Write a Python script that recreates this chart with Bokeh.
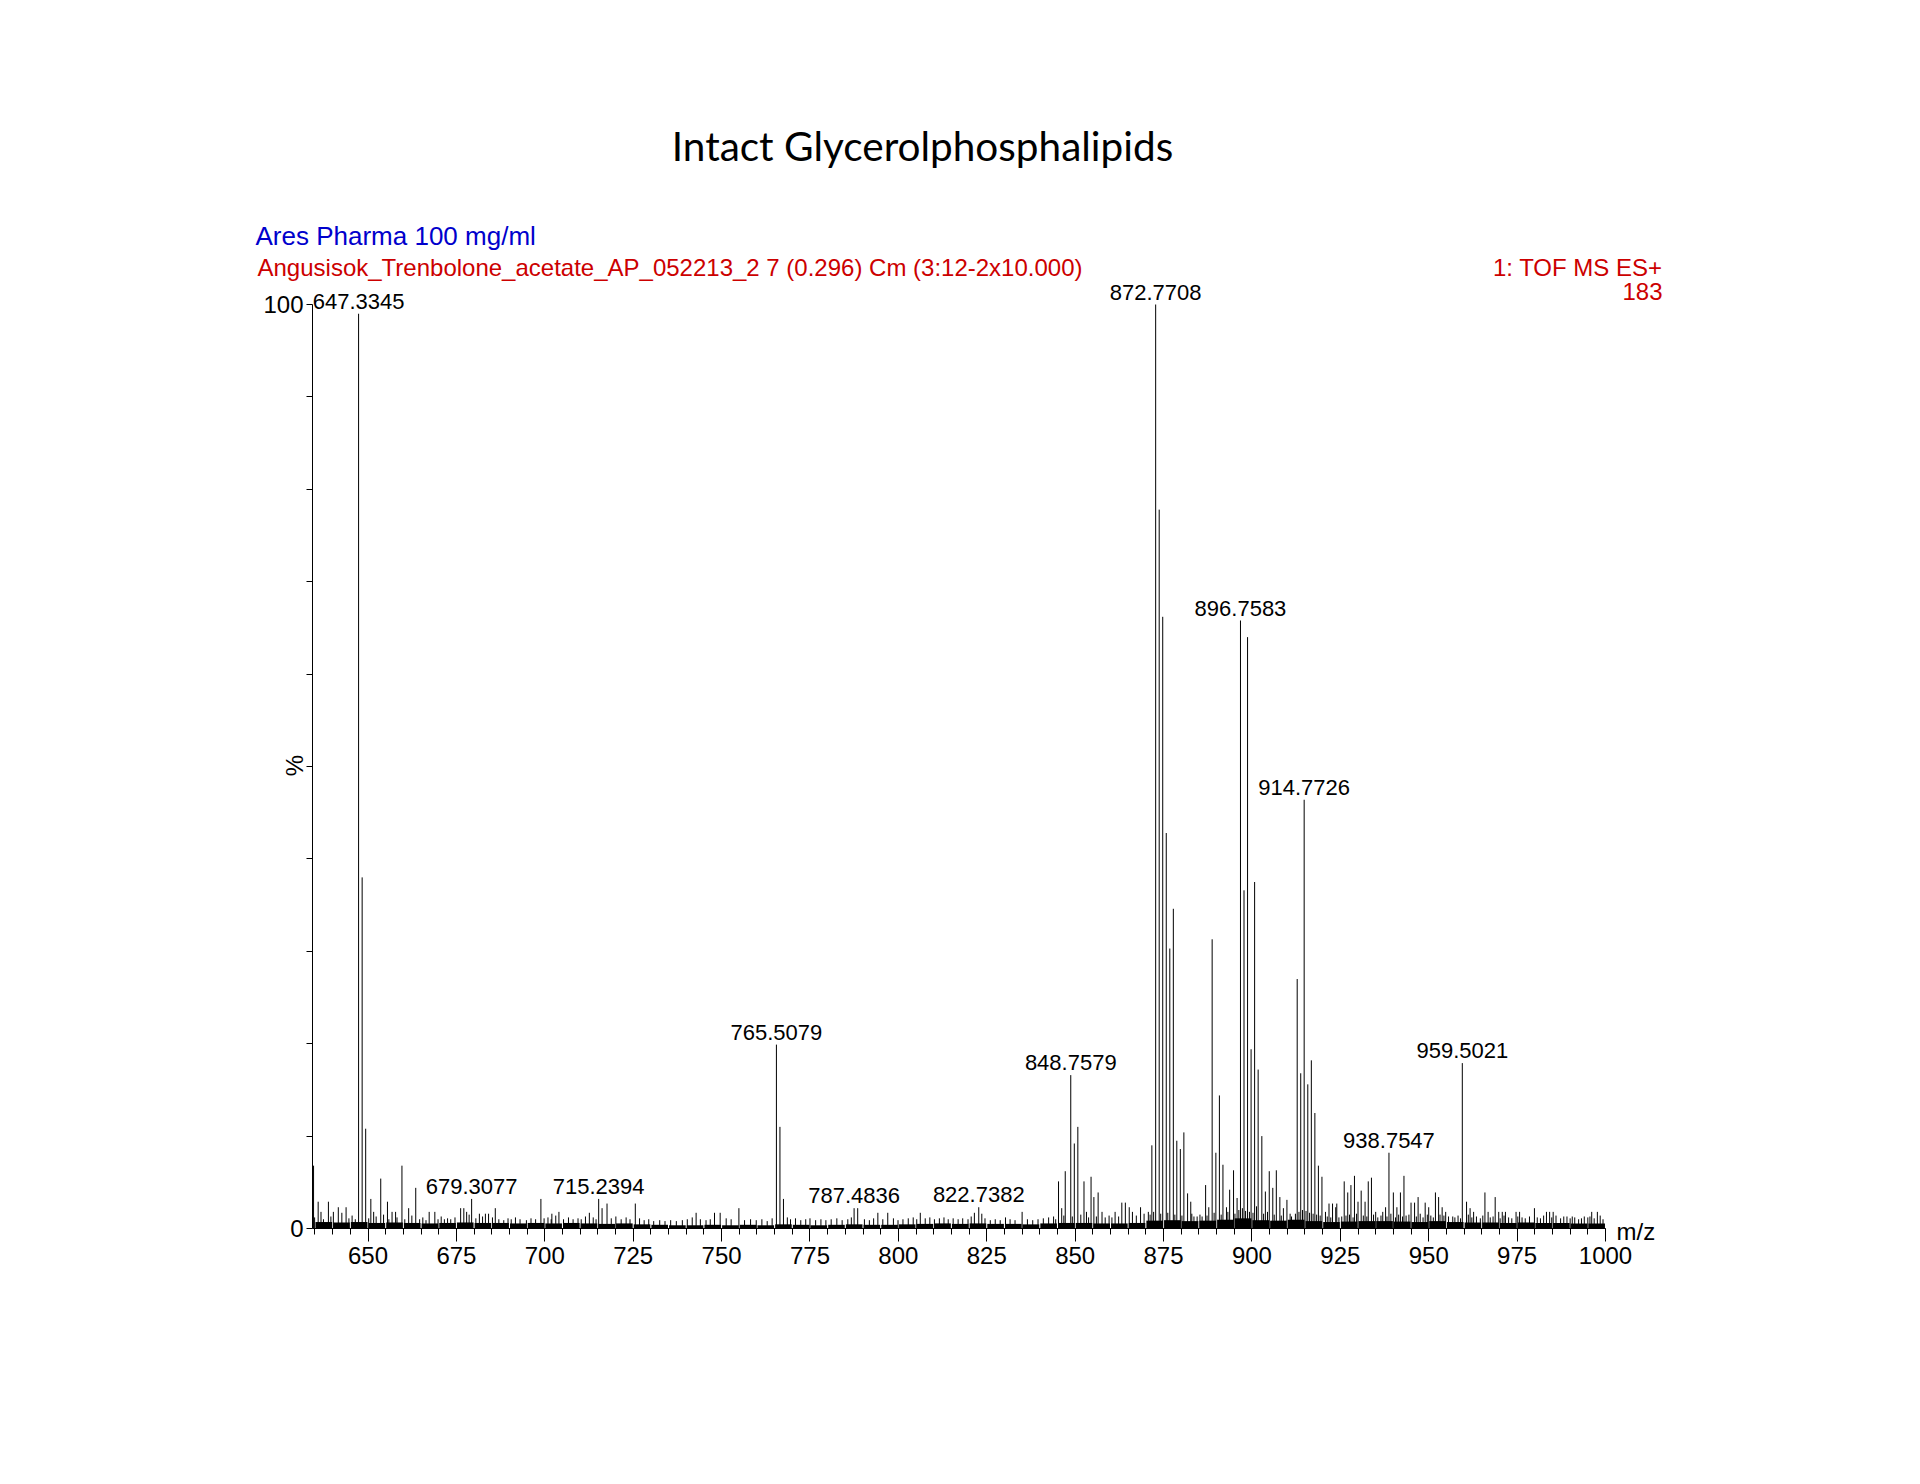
import math
from bokeh.plotting import figure
from bokeh.models import Range1d, FixedTicker, Label, ColumnDataSource
from bokeh.core.properties import value
from bokeh.embed import file_html
from bokeh.resources import INLINE

# ---------------- data ----------------
labeled_mz = [647.3345, 679.3077, 715.2394, 765.5079, 787.4836, 822.7382,
              848.7579, 872.7708, 896.7583, 914.7726, 938.7547, 959.5021]
labeled_int = [99.0, 3.2, 3.2, 19.9, 2.2, 2.3, 16.6, 100.0, 65.8, 46.4, 8.2, 17.9]
labeled_txt = ["647.3345", "679.3077", "715.2394", "765.5079", "787.4836", "822.7382",
               "848.7579", "872.7708", "896.7583", "914.7726", "938.7547", "959.5021"]

major_mz = [634.6, 648.34, 649.34, 653.6, 659.6, 663.5, 766.51, 767.5,
            845.3, 847.2, 849.76, 850.76, 852.5, 854.5, 856.5, 871.7,
            873.77, 874.77, 875.77, 876.77, 877.77, 878.75, 879.75, 880.75, 881.8, 882.7,
            886.9, 888.75, 889.8, 890.8, 891.8, 893.7, 894.8, 895.8,
            897.76, 898.76, 899.76, 900.76, 901.76, 902.8, 903.8, 904.9, 905.9, 906.9, 907.9, 909.9,
            912.8, 913.8, 915.8, 916.8, 917.8, 918.8, 919.8,
            926.1, 927.1, 928.0, 929.0, 930.9, 932.9, 933.8, 940.0, 942.0, 943.0, 947.0,
            951.9, 952.8, 960.7, 965.9, 968.8]
major_int = [6.8, 38.0, 10.8, 5.4, 6.8, 4.4, 11.0, 3.2,
             5.1, 6.2, 9.2, 11.0, 5.1, 5.6, 3.9, 9.0,
             77.8, 66.2, 42.8, 30.3, 34.6, 9.5, 8.6, 10.4, 3.8, 2.9,
             4.7, 31.3, 8.2, 14.4, 6.9, 4.2, 6.3, 3.3,
             36.6, 64.0, 19.4, 37.5, 17.2, 10.0, 4.0, 6.2, 4.4, 6.3, 3.4, 3.1,
             27.0, 16.8, 15.6, 18.2, 12.5, 6.8, 5.6,
             5.1, 3.9, 4.7, 5.7, 4.1, 5.1, 5.5, 3.9, 3.9, 5.7, 3.4,
             3.9, 3.4, 2.9, 3.9, 3.4]

minor_mz = [635.9, 636.7, 638.8, 640.2, 641.6, 642.6, 643.8, 650.8, 651.6, 655.5, 656.8, 657.8,
            661.5, 667.3, 668.9, 676.2, 677.1, 677.9, 681.5, 683.2, 684.1, 686.0, 698.9,
            702.0, 704.0, 712.6, 716.2, 717.6, 725.6, 742.8, 748.0, 749.6, 754.9, 788.5,
            794.2, 797.0, 806.2, 821.5, 823.6, 830.3, 835.0, 846.2, 853.2, 855.3, 857.6,
            861.3, 863.2, 864.2, 865.3, 866.2, 868.5, 870.7, 883.6, 885.9, 887.8, 892.8,
            908.9, 910.8, 920.8, 921.8, 922.8, 923.7, 924.0, 930.0, 932.0, 935.0, 937.0,
            937.8, 941.0, 945.0, 946.0, 949.0, 950.0, 953.8, 954.8, 956.8, 961.7, 962.7,
            966.8, 969.8, 970.8, 971.7, 974.7, 975.7, 979.9, 983.3, 984.2, 985.2, 988.2,
            990.6, 994.0, 996.1, 997.7]
minor_int = [2.9, 1.8, 2.9, 1.8, 2.3, 1.7, 2.3, 3.2, 1.8, 2.9, 1.8, 1.8,
             2.2, 1.8, 1.8, 2.2, 2.2, 1.8, 1.6, 1.6, 1.6, 2.2, 3.2,
             1.6, 1.8, 1.7, 2.2, 2.7, 2.7, 1.7, 1.7, 1.7, 2.2, 2.2,
             1.7, 1.7, 1.7, 1.7, 1.6, 1.2, 1.8, 2.2, 1.8, 3.4, 1.8,
             1.8, 2.8, 2.8, 2.3, 1.8, 2.3, 1.8, 1.3, 1.3, 2.3, 2.3,
             2.2, 1.6, 1.8, 2.7, 2.7, 2.3, 2.7, 2.9, 2.9, 1.8, 1.8,
             2.3, 2.3, 2.8, 2.8, 2.8, 2.3, 2.3, 1.8, 1.3, 2.2, 1.8,
             1.8, 1.8, 1.8, 1.8, 1.8, 1.8, 2.2, 1.8, 1.8, 1.8, 1.3,
             1.3, 1.3, 1.8, 1.8]

noise_mz = [634.9, 637.4, 639.5, 644.6, 645.5, 646.4, 650.2, 652.3, 654.4, 655.9, 658.2, 660.4,
            662.4, 664.6, 665.5, 666.4, 669.8, 670.7, 671.6, 672.5, 673.4, 674.6, 678.6, 680.5,
            682.4, 685.2, 687.0, 688.4, 689.6, 690.5, 691.7, 693.0, 694.8, 696.1, 697.4, 699.8,
            700.9, 701.8, 703.1, 705.3, 706.7, 708.0, 709.4, 710.3, 711.5, 713.7, 714.5, 718.8,
            720.1, 721.6, 723.0, 724.1, 726.8, 728.1, 729.4, 730.8, 732.5, 734.0, 735.6, 737.2,
            738.9, 740.3, 741.7, 744.0, 745.6, 746.8, 751.3, 752.7, 756.5, 758.2, 759.8, 761.4,
            762.9, 764.3, 768.6, 769.5, 770.9, 772.4, 773.8, 775.0, 776.6, 778.1, 779.5, 781.0,
            782.6, 784.1, 785.7, 786.7, 790.4, 791.8, 793.0, 795.6, 798.6, 799.9, 801.3, 802.8,
            804.2, 805.2, 807.6, 808.9, 810.2, 811.6, 812.9, 814.1, 815.5, 816.9, 818.2, 819.7,
            820.6, 824.5, 826.0, 827.4, 828.8, 831.6, 833.0, 836.5, 838.0, 839.5, 841.0, 842.5,
            843.9, 844.5, 846.8, 849.2, 851.6, 853.8, 856.0, 858.5, 859.6, 860.4, 862.3, 867.3,
            869.5, 871.2, 872.2, 874.2, 876.2, 878.2, 880.2, 883.0, 884.5, 885.3, 887.3, 889.3,
            891.3, 893.2, 895.2, 896.3, 897.3, 898.2, 899.3, 900.3, 901.3, 903.3, 904.4, 906.3,
            908.3, 911.2, 912.3, 913.3, 914.3, 915.3, 916.3, 917.3, 918.3, 919.3, 921.3, 922.3,
            924.6, 925.4, 926.6, 927.6, 928.6, 929.6, 931.5, 932.5, 934.4, 935.6, 936.5, 938.2,
            939.3, 940.6, 941.5, 942.6, 943.6, 944.4, 946.5, 947.6, 948.4, 949.6, 950.6, 951.3,
            953.2, 954.3, 955.6, 957.4, 958.3, 959.0, 961.2, 962.2, 963.5, 964.6, 965.3, 967.4,
            968.2, 970.2, 971.3, 972.6, 973.5, 975.2, 976.4, 977.3, 978.5, 980.7, 981.6, 982.5,
            984.8, 986.0, 987.3, 989.1, 990.0, 991.3, 992.4, 993.2, 995.0, 995.6, 996.8, 998.5,
            999.3]
noise_int = [1.2, 1.0, 1.3, 1.1, 1.4, 1.0, 1.1, 1.3, 1.5, 1.0, 1.2, 1.0,
             1.4, 1.0, 1.2, 0.9, 1.0, 1.3, 1.0, 1.1, 1.0, 1.2, 1.5, 1.1,
             1.3, 1.2, 1.0, 0.9, 1.1, 1.0, 1.2, 1.0, 0.9, 1.1, 1.0, 1.1,
             1.2, 1.0, 1.4, 1.0, 1.2, 1.0, 1.1, 1.0, 1.3, 1.2, 1.0, 1.1,
             1.3, 1.0, 1.2, 1.0, 1.1, 0.9, 1.0, 0.8, 0.9, 0.8, 0.9, 0.8,
             0.9, 1.0, 1.2, 1.0, 0.9, 1.0, 1.1, 1.0, 0.9, 1.0, 0.9, 1.0,
             0.8, 1.1, 1.2, 1.0, 1.1, 0.9, 1.0, 1.1, 0.9, 1.0, 0.9, 1.0,
             1.1, 0.9, 1.0, 1.2, 1.0, 0.9, 1.1, 1.0, 1.1, 0.9, 1.0, 1.1,
             1.2, 1.0, 1.1, 1.2, 1.0, 1.1, 1.2, 1.0, 1.1, 1.0, 1.1, 1.0,
             1.3, 1.1, 0.9, 1.0, 0.9, 1.0, 0.9, 1.0, 0.9, 1.0, 1.1, 1.2,
             1.3, 1.0, 1.4, 1.3, 1.5, 1.2, 1.3, 1.2, 1.4, 1.2, 1.3, 1.4,
             1.6, 1.5, 1.8, 1.6, 1.7, 1.5, 1.4, 1.6, 1.3, 1.5, 1.4, 1.7,
             1.5, 1.8, 1.6, 2.0, 2.2, 1.9, 1.8, 1.7, 2.4, 1.6, 1.8, 1.5,
             1.4, 1.3, 1.6, 1.8, 2.0, 1.9, 1.7, 1.6, 1.5, 1.4, 1.3, 1.2,
             1.2, 1.3, 1.4, 1.5, 1.2, 1.6, 1.4, 1.3, 1.5, 1.2, 1.4, 1.3,
             1.6, 1.2, 1.5, 1.3, 1.4, 1.5, 1.3, 1.6, 1.2, 1.5, 1.4, 1.2,
             1.5, 1.4, 1.3, 1.2, 1.4, 1.1, 1.5, 1.2, 1.3, 1.1, 1.4, 1.2,
             1.3, 1.1, 1.4, 1.2, 1.1, 1.3, 1.2, 1.1, 1.3, 1.2, 1.1, 1.4,
             1.2, 1.4, 1.1, 1.3, 1.1, 1.2, 1.0, 1.1, 1.2, 1.3, 1.1, 1.4,
             1.0]

# baseline noise level in 5 m/z bins from 635 to 1000
band_start = list(range(635, 1000, 5))
band_level = [0.7, 0.65, 0.7, 0.6, 0.65, 0.6, 0.55, 0.6, 0.65, 0.6, 0.6, 0.55, 0.6,
              0.55, 0.6, 0.55, 0.5, 0.55, 0.45, 0.4, 0.35, 0.35, 0.4, 0.35, 0.4, 0.35,
              0.45, 0.4, 0.35, 0.4, 0.45, 0.4, 0.4, 0.45, 0.5, 0.55, 0.5, 0.55, 0.5, 0.5, 0.45, 0.55,
              0.6, 0.6, 0.55, 0.55, 0.6, 0.85, 0.9, 0.8, 0.85, 0.95, 1.1, 0.9, 0.85, 0.95, 0.8, 0.7,
              0.75, 0.8, 0.8, 0.75, 0.7, 0.8, 0.7, 0.65, 0.65, 0.6, 0.65, 0.6, 0.6, 0.55, 0.55]

x_ticks = [650, 675, 700, 725, 750, 775, 800, 825, 850, 875, 900, 925, 950, 975, 1000]
x_minor = list(range(635, 1001, 5))
y_ticks = [0, 10, 20, 30, 40, 50, 60, 70, 80, 90, 100]
mz_lo, mz_hi = 634.3, 1000.0
pct_lo, pct_hi = 0.0, 100.0

title_text = "Intact Glycerolphosphalipids"
sample_text = "Ares Pharma 100 mg/ml"
file_text = "Angusisok_Trenbolone_acetate_AP_052213_2 7 (0.296) Cm (3:12-2x10.000)"
mode_text = "1: TOF MS ES+"
count_text = "183"

# ---------------- geometry (page pixels) ----------------
AX_L, AX_R = 312, 1605     # where m/z 634.3 and 1000 sit
AX_T, AX_B = 304, 1228     # where 100 % and 0 % sit
FR_L, FR_R, FR_T, FR_B = 160, 1740, 80, 1320   # large frame holding all texts

sx = (AX_R - AX_L) / (mz_hi - mz_lo)
sy = (AX_B - AX_T) / (pct_hi - pct_lo)
x_start = mz_lo - (AX_L - FR_L) / sx
x_end = mz_hi + (FR_R - AX_R) / sx
y_start = pct_lo - (FR_B - AX_B) / sy
y_end = pct_hi + (AX_T - FR_T) / sy

def X(px):
    return mz_lo + (px - AX_L) / sx
def Y(py):
    return pct_lo + (AX_B - py) / sy

p = figure(frame_width=FR_R - FR_L, frame_height=FR_B - FR_T,
           min_border_left=FR_L, min_border_right=1900 - FR_R,
           min_border_top=FR_T, min_border_bottom=1450 - FR_B,
           x_range=Range1d(x_start, x_end), y_range=Range1d(y_start, y_end),
           output_backend="svg", toolbar_location=None)
p.outline_line_color = None
p.xgrid.visible = False
p.ygrid.visible = False
p.background_fill_color = "white"
p.border_fill_color = "white"

FONT = "Liberation Sans"

# baseline noise band
p.vbar(x=[b + 2.5 for b in band_start], width=4.7, bottom=0, top=band_level,
       color="black", line_width=0)
# peaks
p.segment(x0=noise_mz, y0=0, x1=noise_mz, y1=noise_int, line_color="black", line_width=1)
p.segment(x0=minor_mz, y0=0, x1=minor_mz, y1=minor_int, line_color="black", line_width=1)
p.segment(x0=major_mz, y0=0, x1=major_mz, y1=major_int, line_color="black", line_width=1)
p.segment(x0=labeled_mz, y0=0, x1=labeled_mz, y1=labeled_int, line_color="black", line_width=1)

src = ColumnDataSource(dict(x=labeled_mz, y=labeled_int, t=labeled_txt))
p.text(x="x", y="y", text="t", source=src, y_offset=-5,
       text_align="center", text_baseline="bottom",
       text_font=value(FONT), text_font_size="22px", text_color="black")

# axes pinned to the data origin
xa = p.xaxis[0]
xa.fixed_location = pct_lo
xa.bounds = (mz_lo, mz_hi)
xa.ticker = FixedTicker(ticks=x_ticks, minor_ticks=x_minor)
xa.axis_line_color = "black"
xa.major_tick_in = 0
xa.major_tick_out = 13
xa.minor_tick_in = 0
xa.minor_tick_out = 6
xa.major_tick_line_color = "black"
xa.minor_tick_line_color = "black"
xa.major_label_standoff = 5
xa.major_label_text_font = FONT
xa.major_label_text_font_size = "24px"
xa.major_label_text_color = "black"

ya = p.yaxis[0]
ya.fixed_location = mz_lo
ya.bounds = (pct_lo, pct_hi)
ya.ticker = FixedTicker(ticks=y_ticks, minor_ticks=[])
ya.major_label_overrides = {t: "" for t in y_ticks if t not in (0, 100)}
ya.axis_line_color = "black"
ya.major_tick_in = 0
ya.major_tick_out = 6
ya.minor_tick_line_color = None
ya.major_label_standoff = 3
ya.major_label_text_font = FONT
ya.major_label_text_font_size = "24px"
ya.major_label_text_color = "black"

# texts
p.add_layout(Label(x=X(922), y=Y(145), text=title_text, text_align="center",
                   text_baseline="middle", text_font="Lato", text_font_size="40.5px",
                   text_color="black"))
p.add_layout(Label(x=X(255), y=Y(235), text=sample_text, text_align="left",
                   text_baseline="middle", text_font=FONT, text_font_size="26px",
                   text_color="#0000cc"))
p.add_layout(Label(x=X(257), y=Y(267), text=file_text, text_align="left",
                   text_baseline="middle", text_font=FONT, text_font_size="24px",
                   text_color="#cc0000"))
p.add_layout(Label(x=X(1662), y=Y(267), text=mode_text, text_align="right",
                   text_baseline="middle", text_font=FONT, text_font_size="24px",
                   text_color="#cc0000"))
p.add_layout(Label(x=X(1662), y=Y(291), text=count_text, text_align="right",
                   text_baseline="middle", text_font=FONT, text_font_size="24px",
                   text_color="#cc0000"))
p.add_layout(Label(x=X(294), y=Y(765), text="%", angle=math.pi / 2, text_align="center",
                   text_baseline="middle", text_font=FONT, text_font_size="24px",
                   text_color="black"))
p.add_layout(Label(x=X(1616), y=Y(1231), text="m/z", text_align="left",
                   text_baseline="middle", text_font=FONT, text_font_size="24px",
                   text_color="black"))

open("out.html", "w").write(file_html(p, INLINE))
